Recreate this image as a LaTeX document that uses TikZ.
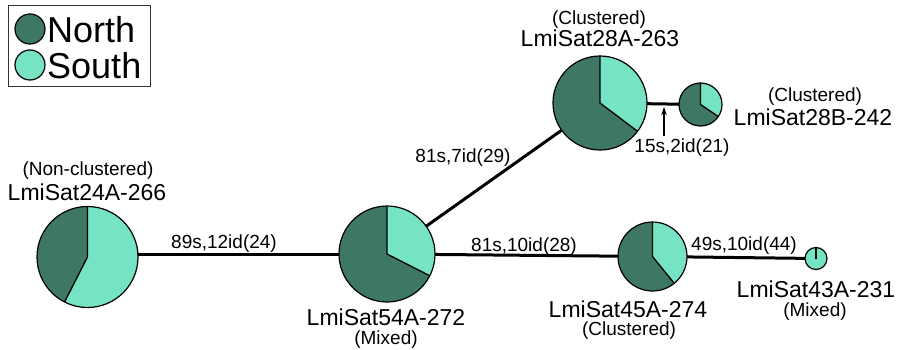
\documentclass[tikz,border=0pt]{standalone}
\usepackage{fontspec}
\setmainfont{Liberation Sans}
\usetikzlibrary{arrows.meta,calc}

\definecolor{northc}{HTML}{3E7764}
\definecolor{southc}{HTML}{76E4C4}

% pie chart: #1 name, #2 centre, #3 radius, #4 end angle of the South share (clockwise from 12 o'clock)
\newcommand\pieplot[4]{%
  \node[pienode, minimum size=2*#3] (#1) at (#2) {};
  \fill[southc] (#1.center) -- ++(90:#3) arc[start angle=90, end angle=#4, radius=#3] -- cycle;
  \draw[divider] ($(#1.center)+(90:#3)$) -- (#1.center) -- ($(#1.center)+(#4:#3)$);
  \draw[rim] (#1.center) circle[radius=#3];
}

\begin{document}
\begin{tikzpicture}[x=1pt, y=1pt,
  pienode/.style={circle, fill=northc, draw=none, inner sep=0pt, outer sep=0pt},
  divider/.style={draw=black, line width=1.3},
  rim/.style={draw=black, line width=1.2},
  link/.style={draw=black, line width=3},
  namelbl/.style={anchor=base, inner sep=0pt, font=\fontsize{23}{23}\selectfont},
  sublbl/.style={anchor=base, inner sep=0pt, font=\fontsize{19}{19}\selectfont},
  edgelbl/.style={anchor=base, inner sep=0pt, font=\fontsize{19}{19}\selectfont},
  keytext/.style={anchor=base west, inner sep=0pt, font=\fontsize{36}{36}\selectfont},
]
\useasboundingbox (0,0) rectangle (899,-350);

% node positions
\coordinate (c24) at (87.5,-257);
\coordinate (c54) at (387,-254);
\coordinate (c28a) at (600,-103);
\coordinate (c28b) at (700.5,-104.5);
\coordinate (c45) at (652.5,-256.5);
\coordinate (c43) at (816,-258.5);

% links, drawn first so the pies cover their ends
\draw[link] (c24 |- c54) -- (c54);
\draw[link] (c54) -- (c28a);
\draw[link] (c28a) -- (c28b);
\draw[link] (c54) -- (c45);
\draw[link] (c45) -- (c43);

% pies
\pieplot{p24}{c24}{50.5}{-117}
\pieplot{p54}{c54}{48}{-27}
\pieplot{p28a}{c28a}{47}{-37}
\pieplot{p28b}{c28b}{21.5}{-34}
\pieplot{p45}{c45}{34.5}{-51}
\node[pienode, fill=southc, minimum size=22] (p43) at (c43) {};
\draw[divider] (p43.north) -- (p43.center);
\draw[rim] (p43.center) circle[radius=11];

% pie labels
\node[sublbl]  (s24)  at (88,-175)  {(Non-clustered)};
\node[namelbl] (n24)  at (87,-200)  {LmiSat24A-266};
\node[namelbl] (n54)  at (386,-325) {LmiSat54A-272};
\node[sublbl]  (s54)  at (386,-344) {(Mixed)};
\node[sublbl]  (s28a) at (599,-25)  {(Clustered)};
\node[namelbl] (n28a) at (600,-47)  {LmiSat28A-263};
\node[sublbl]  (s28b) at (815,-102) {(Clustered)};
\node[namelbl] (n28b) at (813,-125) {LmiSat28B-242};
\node[namelbl] (n45)  at (628,-317) {LmiSat45A-274};
\node[sublbl]  (s45)  at (629,-335) {(Clustered)};
\node[namelbl] (n43)  at (816,-297) {LmiSat43A-231};
\node[sublbl]  (s43)  at (815,-316) {(Mixed)};

% link labels
\node[edgelbl] (e1) at (224,-248) {89s,12id(24)};
\node[edgelbl] (e2) at (463,-162) {81s,7id(29)};
\node[edgelbl] (e3) at (524,-251) {81s,10id(28)};
\node[edgelbl] (e4) at (744,-250) {49s,10id(44)};
\node[edgelbl] (e5) at (682,-152) {15s,2id(21)};
\coordinate (tip) at (664,-107);
\draw[line width=1.1, -{Stealth[length=8, width=5.5]}] ([yshift=2]e5.north -| tip) -- (tip);

% key
\draw[line width=0.9, draw=black!80] (8,-5) rectangle (150,-86);
\node[circle, fill=northc, draw=black, line width=1.2, minimum size=30, inner sep=0] (kn) at (30,-29) {};
\node[circle, fill=southc, draw=black, line width=1.2, minimum size=30, inner sep=0] (ks) at (30,-65) {};
\node[keytext] (tn) at (47,-43) {North};
\node[keytext] (ts) at (47,-79) {South};
\end{tikzpicture}
\end{document}
